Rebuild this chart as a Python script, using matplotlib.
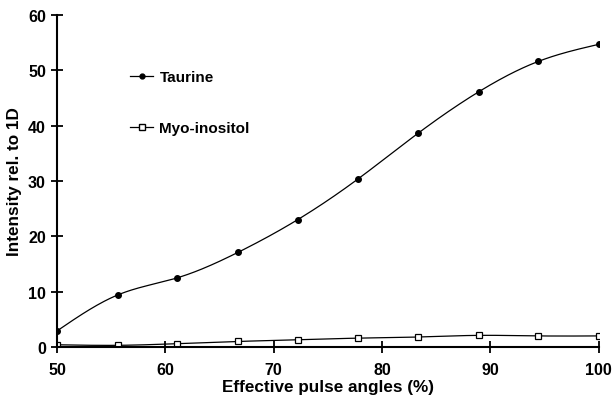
import numpy as np
import matplotlib
matplotlib.use('Agg')
import matplotlib.pyplot as plt

# data
angles = [50, 55.6, 61.1, 66.7, 72.2, 77.8, 83.3, 88.9, 94.4, 100]
taurine = [2.9, 9.4, 12.5, 17.1, 23.0, 30.4, 38.6, 46.1, 51.6, 54.7]
myo = [0.4, 0.3, 0.6, 1.0, 1.3, 1.6, 1.8, 2.1, 2.0, 2.0]


def smooth(x, y, n=300):
    # natural cubic spline through the points
    x = np.asarray(x, float)
    y = np.asarray(y, float)
    k = len(x)
    h = np.diff(x)
    A = np.zeros((k, k))
    b = np.zeros(k)
    A[0, 0] = A[-1, -1] = 1
    for i in range(1, k - 1):
        A[i, i - 1] = h[i - 1]
        A[i, i] = 2 * (h[i - 1] + h[i])
        A[i, i + 1] = h[i]
        b[i] = 6 * ((y[i + 1] - y[i]) / h[i] - (y[i] - y[i - 1]) / h[i - 1])
    M = np.linalg.solve(A, b)
    xs = np.linspace(x[0], x[-1], n)
    idx = np.clip(np.searchsorted(x, xs) - 1, 0, k - 2)
    x0, x1 = x[idx], x[idx + 1]
    hh = x1 - x0
    t0, t1 = x1 - xs, xs - x0
    ys = (M[idx] * t0**3 + M[idx + 1] * t1**3) / (6 * hh) \
        + (y[idx] / hh - M[idx] * hh / 6) * t0 \
        + (y[idx + 1] / hh - M[idx + 1] * hh / 6) * t1
    return xs, ys


plt.rcParams['font.family'] = ['Liberation Sans', 'DejaVu Sans']
plt.rcParams['font.weight'] = 'bold'

fig = plt.figure(figsize=(6.15, 4.06), dpi=100)
ax = fig.add_axes([0.0927, 0.1429, 0.881, 0.8177])

xs, ys = smooth(angles, taurine)
ax.plot(xs, ys, color='black', lw=0.9)
ax.plot(angles, taurine, 'o', color='black', ms=4)
xs, ys = smooth(angles, myo)
ax.plot(xs, ys, color='black', lw=0.9)
ax.plot(angles, myo, 's', mfc='white', mec='black', ms=4.5, mew=0.9)

# legend handles
ax.plot([], [], '-o', color='black', lw=0.9, ms=3.5, label='Taurine')
ax.plot([], [], '-s', color='black', mfc='white', lw=0.9, ms=4, label='Myo-inositol')
handles, labels = ax.get_legend_handles_labels()
ax.legend(handles, labels, loc='upper left', bbox_to_anchor=(0.11, 0.875),
          frameon=False, handlelength=1.5, handletextpad=0.4,
          labelspacing=2.4, prop={'size': 11, 'weight': 'bold'})

ax.set_xlim(50, 100)
ax.set_ylim(0, 60)
ax.set_xticks([50, 60, 70, 80, 90, 100])
ax.set_yticks([0, 10, 20, 30, 40, 50, 60])
ax.spines['top'].set_visible(False)
ax.spines['right'].set_visible(False)
ax.spines['left'].set_linewidth(1.5)
ax.spines['bottom'].set_linewidth(1.5)
ax.tick_params(axis='both', direction='inout', length=9, width=1.3,
               labelsize=11.5)
ax.tick_params(axis='x', pad=6)
ax.set_xlabel('Effective pulse angles (%)', fontsize=12.3, fontweight='bold', labelpad=2)
ax.set_ylabel('Intensity rel. to 1D', fontsize=12.3, fontweight='bold', labelpad=4)
for lab in ax.get_xticklabels() + ax.get_yticklabels():
    lab.set_fontweight('bold')

fig.savefig('out.png', dpi=100)
